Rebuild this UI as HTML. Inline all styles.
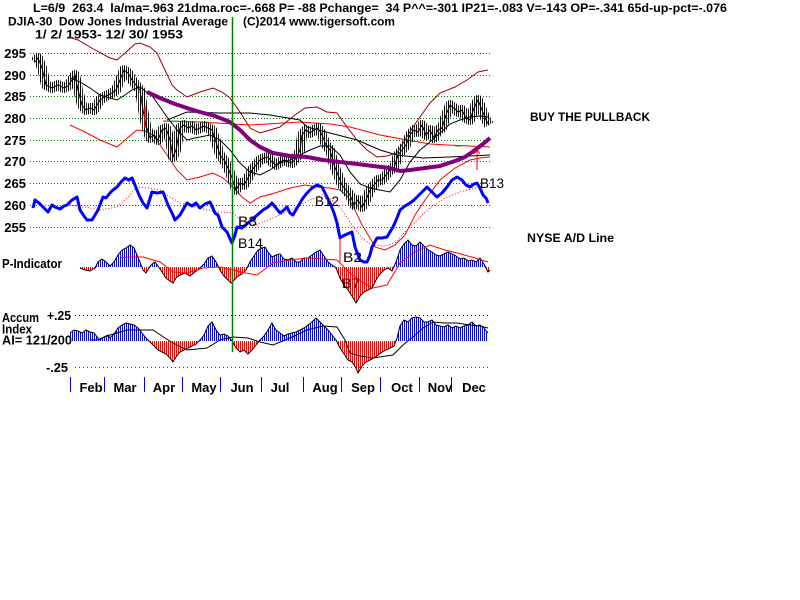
<!DOCTYPE html>
<html><head><meta charset="utf-8"><style>
html,body{margin:0;padding:0;background:#fff;}
svg{display:block;}
text{font-family:"Liberation Sans",Arial,sans-serif;white-space:pre;}
.b{font-weight:bold;}
</style></head><body>
<svg width="800" height="600" viewBox="0 0 800 600" xmlns="http://www.w3.org/2000/svg">
<defs>
<pattern id="pk" width="4" height="600" patternUnits="userSpaceOnUse"><rect x="0" y="0" width="1" height="600" fill="#000"/><rect x="2" y="0" width="1" height="600" fill="#222"/></pattern>
<pattern id="pp" width="2" height="600" patternUnits="userSpaceOnUse"><rect x="0" y="0" width="1" height="267" fill="#0000ff"/><rect x="0" y="267" width="1" height="333" fill="#ff0000"/></pattern>
<pattern id="pa" width="2" height="600" patternUnits="userSpaceOnUse"><rect x="0" y="0" width="1" height="341" fill="#0000ff"/><rect x="0" y="341" width="1" height="259" fill="#ff0000"/></pattern>
</defs>
<rect width="800" height="600" fill="#fff"/>

<!-- header -->
<text class="b" x="33" y="12" font-size="12" textLength="694" lengthAdjust="spacingAndGlyphs">L=6/9  263.4  la/ma=.963 21dma.roc=-.668 P= -88 Pchange=  34 P^^=-301 IP21=-.083 V=-143 OP=-.341 65d-up-pct=-.076</text>
<text class="b" x="8" y="25.5" font-size="12" textLength="220" lengthAdjust="spacingAndGlyphs">DJIA-30  Dow Jones Industrial Average</text>
<text class="b" x="243" y="25.5" font-size="12" textLength="152" lengthAdjust="spacingAndGlyphs">(C)2014 www.tigersoft.com</text>
<text class="b" x="35" y="38.5" font-size="12" textLength="148" lengthAdjust="spacingAndGlyphs">1/ 2/ 1953- 12/ 30/ 1953</text>

<!-- grid -->
<g stroke="#008000" stroke-width="1" stroke-dasharray="1 2">
<line x1="30" y1="53.5" x2="490" y2="53.5"/>
<line x1="30" y1="75.5" x2="490" y2="75.5"/>
<line x1="30" y1="96.5" x2="490" y2="96.5"/>
<line x1="30" y1="118.5" x2="490" y2="118.5"/>
<line x1="30" y1="140.5" x2="490" y2="140.5"/>
<line x1="30" y1="161.5" x2="490" y2="161.5"/>
<line x1="30" y1="183.5" x2="490" y2="183.5"/>
<line x1="30" y1="205.5" x2="490" y2="205.5"/>
<line x1="30" y1="227.5" x2="490" y2="227.5"/>
</g>
<g class="b" font-size="13" text-anchor="end" font-weight="bold">
<text x="26" y="58">295</text>
<text x="26" y="80">290</text>
<text x="26" y="101">285</text>
<text x="26" y="123">280</text>
<text x="26" y="145">275</text>
<text x="26" y="166">270</text>
<text x="26" y="188">265</text>
<text x="26" y="210">260</text>
<text x="26" y="232">255</text>
</g>

<!-- bollinger upper -->
<polyline fill="none" stroke="#990000" stroke-width="1" points="68,37 78,40 95,50 110,58 117,60 125,53 135,44 140,43 150,47 157,53 165,70 172,85 177,90 187,97 200,92 213,88 222,92 230,98 240,112 250,128 260,133 270,130 280,127 295,115 305,108 317,107 327,112 337,113 347,127 357,140 367,150 377,157 387,156 397,153 405,140 413,127 420,117 430,103 440,93 455,87 467,80 478,72 488,70"/>
<!-- bollinger lower -->
<polyline fill="none" stroke="#ff0000" stroke-width="1" points="70,125 85,132 100,140 117,147 125,140 137,130 145,131 153,135 165,152 177,170 187,180 200,177 213,173 223,178 233,187 242,197 250,203 260,197 275,193 290,188 305,185 317,187 330,188 340,190 348,197 355,210 362,225 370,238 375,247 385,250 395,245 405,235 415,215 425,200 440,180 455,168 470,160 480,158 490,157"/>
<!-- red near-horizontal line -->
<polyline fill="none" stroke="#ff0000" stroke-width="1" points="163,121 200,122 250,125 300,122 330,124 350,127 380,135 407,140 430,144 447,145 470,146 490,147"/>
<g stroke="#00a000" stroke-width="1"><line x1="167" y1="121" x2="187" y2="121.5"/><line x1="455" y1="146" x2="462" y2="146"/></g>
<!-- longer black MA -->
<polyline fill="none" stroke="#000" stroke-width="1" points="167,120 187,112 220,113 250,113 270,115 300,120 307,127 330,133 357,140 380,150 397,155 423,158 450,157 470,156 490,155"/>

<!-- price bars -->
<polyline fill="none" stroke="url(#pk)" stroke-width="10" stroke-linejoin="round" points="35,62 38,58 42,68 46,85 52,88 58,85 64,88 68,86 72,80 75,75 78,90 82,105 86,110 90,108 94,110 97,105 100,100 104,97 108,95 112,93 116,90 120,80 124,70 128,73 132,80 136,85 140,90 143,110 146,125 150,138 154,135 158,140 162,130 166,128 170,140 173,157 176,150 180,128 184,125 188,128 192,126 196,130 200,128 204,126 208,128 212,130 216,142 220,155 224,160 228,168 232,178 236,190 240,183 244,185 248,178 252,170 256,165 260,160 264,158 268,157 272,162 276,165 280,162 284,160 288,162 292,163 296,158 300,150 302,135 306,130 310,133 314,130 318,128 322,135 326,145 330,150 334,165 338,175 342,185 346,190 350,195 354,205 358,200 362,207 366,200 370,190 374,185 378,180 382,180 386,175 390,170 394,168 398,155 402,150 406,145 410,135 414,130 418,132 422,125 426,135 430,130 434,138 438,130 442,128 446,115 450,105 454,108 458,112 462,110 466,118 470,120 474,108 478,100 482,110 486,120 489,125"/>
<polyline fill="none" stroke="#000" stroke-width="1" points="35,62 38,58 42,68 46,85 52,88 58,85 64,88 68,86 72,80 75,75 78,90 82,105 86,110 90,108 94,110 97,105 100,100 104,97 108,95 112,93 116,90 120,80 124,70 128,73 132,80 136,85 140,90 143,110 146,125 150,138 154,135 158,140 162,130 166,128 170,140 173,157 176,150 180,128 184,125 188,128 192,126 196,130 200,128 204,126 208,128 212,130 216,142 220,155 224,160 228,168 232,178 236,190 240,183 244,185 248,178 252,170 256,165 260,160 264,158 268,157 272,162 276,165 280,162 284,160 288,162 292,163 296,158 300,150 302,135 306,130 310,133 314,130 318,128 322,135 326,145 330,150 334,165 338,175 342,185 346,190 350,195 354,205 358,200 362,207 366,200 370,190 374,185 378,180 382,180 386,175 390,170 394,168 398,155 402,150 406,145 410,135 414,130 418,132 422,125 426,135 430,130 434,138 438,130 442,128 446,115 450,105 454,108 458,112 462,110 466,118 470,120 474,108 478,100 482,110 486,120 489,125"/>
<line x1="145" y1="106" x2="145" y2="128" stroke="#ff0000" stroke-width="1.5"/>

<!-- 21d MA -->
<polyline fill="none" stroke="#000" stroke-width="1" points="70,78 80,82 90,88 100,95 110,98 117,100 125,95 132,90 140,87 148,93 153,97 160,107 167,117 177,130 187,140 195,138 200,137 210,135 220,140 230,150 240,163 250,172 260,175 270,170 280,163 290,160 300,155 310,150 320,146 330,146 340,155 350,172 360,184 370,188 380,190 390,192 400,180 410,162 420,150 430,142 440,133 450,124 460,120 470,117 480,116 488,117"/>

<!-- purple -->
<polyline fill="none" stroke="#800080" stroke-width="4" stroke-linejoin="round" points="147,92 160,98 175,104 190,109 200,112 215,116 230,122 240,130 250,140 260,147 273,153 290,156 307,157 323,160 340,162 357,164 373,166 390,168 400,171 410,170 425,168 440,166 455,161 465,157 475,150 483,144 490,138"/>
<g stroke="#ff0000" stroke-width="1"><line x1="477" y1="150" x2="477" y2="170"/><line x1="474" y1="154" x2="477" y2="150"/><line x1="480" y1="154" x2="477" y2="150"/></g>

<!-- A/D red dotted MA -->
<polyline fill="none" stroke="#ff0000" stroke-width="1" stroke-dasharray="1 2" points="70,205 85,207 100,210 117,207 128,197 137,187 148,188 160,190 170,197 180,203 195,207 207,210 220,212 233,213 243,222 255,225 268,220 280,215 295,208 310,200 322,195 332,200 342,210 352,225 362,238 372,245 385,246 395,243 405,232 417,220 430,208 445,198 460,192 475,188 488,187"/>
<!-- A/D line -->
<polyline fill="none" stroke="#0000ff" stroke-width="3" stroke-linejoin="round" points="33,208 35,200 39,203 43,207 48,212 52,205 55,207 60,209 64,206 67,205 72,200 77,197 80,210 84,216 87,220 92,220 95,215 98,210 103,197 106,198 110,193 113,190 117,187 121,182 125,178 129,180 132,178 135,185 139,195 143,203 147,208 152,192 157,193 163,192 168,205 172,213 175,220 180,215 184,208 187,203 192,206 196,203 200,208 205,204 210,202 215,213 218,215 222,227 227,232 232,243 235,235 237,227 242,228 248,223 255,217 263,210 268,207 272,203 276,208 280,213 284,210 287,207 290,213 293,215 297,208 300,203 303,198 307,193 312,188 317,185 322,187 326,195 330,203 334,213 337,223 340,238 343,236 347,234 352,232 355,247 358,255 360,260 364,262 367,262 370,255 372,247 377,238 382,238 387,237 390,232 393,227 397,218 400,210 405,206 410,203 414,200 417,197 422,192 427,187 432,192 437,197 442,193 447,187 452,180 457,177 462,180 466,185 470,187 474,184 477,183 480,188 483,195 486,198 488,203"/>
<line x1="340" y1="238" x2="340" y2="262" stroke="#ff0000" stroke-width="1"/>

<!-- P-indicator -->
<polygon fill="url(#pp)" points="80,267 80,268 85,270 90,271 95,268 98,262 102,259 106,262 110,266 114,262 118,255 122,250 126,248 130,245 134,248 137,255 140,262 143,270 146,273 149,268 152,264 155,262 158,266 162,272 166,278 170,281 173,283 176,278 180,275 185,273 190,276 195,272 200,268 204,264 208,258 212,256 216,262 220,270 224,276 228,280 231,283 234,280 238,276 242,274 246,270 250,262 254,256 258,250 262,248 265,247 268,252 272,257 276,255 280,254 284,259 288,260 292,258 296,262 300,262 304,258 308,258 312,255 316,252 320,250 324,256 328,262 332,265 336,268 340,278 344,285 348,290 352,296 356,303 360,296 364,292 368,290 372,288 376,280 380,274 384,270 388,268 392,271 396,262 400,250 404,244 408,240 412,245 416,246 420,242 424,246 428,250 432,252 436,255 440,256 444,254 448,252 452,254 456,256 460,259 464,258 468,261 472,260 476,262 480,258 484,264 488,272 490,270 490,267"/>
<polyline fill="none" stroke="#000" stroke-width="1" points="80,268 85,270 90,271 95,268 98,262 102,259 106,262 110,266 114,262 118,255 122,250 126,248 130,245 134,248 137,255 140,262 143,270 146,273 149,268 152,264 155,262 158,266 162,272 166,278 170,281 173,283 176,278 180,275 185,273 190,276 195,272 200,268 204,264 208,258 212,256 216,262 220,270 224,276 228,280 231,283 234,280 238,276 242,274 246,270 250,262 254,256 258,250 262,248 265,247 268,252 272,257 276,255 280,254 284,259 288,260 292,258 296,262 300,262 304,258 308,258 312,255 316,252 320,250 324,256 328,262 332,265 336,268 340,278 344,285 348,290 352,296 356,303 360,296 364,292 368,290 372,288 376,280 380,274 384,270 388,268 392,271 396,262 400,250 404,244 408,240 412,245 416,246 420,242 424,246 428,250 432,252 436,255 440,256 444,254 448,252 452,254 456,256 460,259 464,258 468,261 472,260 476,262 480,258 484,264 488,272 490,270"/>
<polyline fill="none" stroke="#ff0000" stroke-width="1" points="120,258 127,257 143,257 160,262 173,272 187,273 203,268 220,267 233,270 240,272 257,275 273,263 290,260 307,258 337,260 350,273 362,282 373,288 387,285 400,263 415,252 430,245 445,250 457,253 475,258 488,262"/>

<!-- Accum index -->
<line x1="75" y1="315.5" x2="490" y2="315.5" stroke="#000" stroke-width="1" stroke-dasharray="1 3"/>
<line x1="75" y1="367.5" x2="490" y2="367.5" stroke="#c00060" stroke-width="1" stroke-dasharray="1 3"/>
<polygon fill="url(#pa)" points="70,341 70,333 74,330 78,331 82,333 86,330 90,332 94,333 98,338 100,340 104,337 108,335 110,338 114,334 118,328 122,325 126,323 130,324 134,325 138,328 142,333 146,338 150,342 154,346 158,350 162,352 166,354 170,358 173,362 176,357 180,352 184,350 188,348 192,346 196,344 200,340 204,335 208,326 212,322 216,330 220,335 224,334 228,336 232,341 236,348 240,352 244,350 248,354 252,350 256,345 260,340 264,336 268,330 272,323 276,330 280,333 284,336 288,334 292,333 296,332 300,330 304,328 308,325 312,322 316,318 320,322 324,326 328,330 332,335 336,340 340,348 344,354 348,360 352,362 356,368 358,373 362,366 366,362 370,360 374,358 378,355 382,352 386,350 390,348 394,346 397,338 400,326 404,320 408,322 412,318 416,317 420,318 424,322 428,322 432,320 436,325 440,326 444,327 448,325 452,328 456,326 460,328 464,326 468,325 472,322 476,326 480,325 484,328 488,333 488,341"/>
<polyline fill="none" stroke="#000" stroke-width="1" points="70,333 74,330 78,331 82,333 86,330 90,332 94,333 98,338 100,340 104,337 108,335 110,338 114,334 118,328 122,325 126,323 130,324 134,325 138,328 142,333 146,338 150,342 154,346 158,350 162,352 166,354 170,358 173,362 176,357 180,352 184,350 188,348 192,346 196,344 200,340 204,335 208,326 212,322 216,330 220,335 224,334 228,336 232,341 236,348 240,352 244,350 248,354 252,350 256,345 260,340 264,336 268,330 272,323 276,330 280,333 284,336 288,334 292,333 296,332 300,330 304,328 308,325 312,322 316,318 320,322 324,326 328,330 332,335 336,340 340,348 344,354 348,360 352,362 356,368 358,373 362,366 366,362 370,360 374,358 378,355 382,352 386,350 390,348 394,346 397,338 400,326 404,320 408,322 412,318 416,317 420,318 424,322 428,322 432,320 436,325 440,326 444,327 448,325 452,328 456,326 460,328 464,326 468,325 472,322 476,326 480,325 484,328 488,333"/>
<polyline fill="none" stroke="#000" stroke-width="1" points="90,340 97,340 110,335 127,330 153,330 165,338 173,343 187,350 207,348 220,340 233,337 248,338 260,342 273,345 290,338 307,330 323,326 337,327 345,340 350,353 360,356 373,358 393,355 403,345 413,337 423,328 433,322 445,323 457,323 470,325 480,326 488,328"/>

<!-- green vertical line -->
<line x1="232.5" y1="17" x2="232.5" y2="352" stroke="#008000" stroke-width="1.5"/>

<!-- left panel labels -->
<g class="b" font-size="13" font-weight="bold">
<text x="2" y="268" textLength="60" lengthAdjust="spacingAndGlyphs">P-Indicator</text>
<text x="2" y="322" textLength="37" lengthAdjust="spacingAndGlyphs">Accum</text>
<text x="47" y="320" textLength="24" lengthAdjust="spacingAndGlyphs">+.25</text>
<text x="2" y="333.5" textLength="30" lengthAdjust="spacingAndGlyphs">Index</text>
<text x="2" y="344.5" textLength="70" lengthAdjust="spacingAndGlyphs">AI= 121/200</text>
<text x="46" y="372" textLength="22" lengthAdjust="spacingAndGlyphs">-.25</text>
</g>

<!-- signal labels -->
<g font-size="14" fill="#000">
<text x="238" y="226" textLength="19" lengthAdjust="spacingAndGlyphs">B3</text>
<text x="238" y="248" textLength="25" lengthAdjust="spacingAndGlyphs">B14</text>
<text x="315" y="206" textLength="24" lengthAdjust="spacingAndGlyphs">B12</text>
<text x="343" y="262" textLength="19" lengthAdjust="spacingAndGlyphs">B2</text>
<text x="342" y="288" textLength="18" lengthAdjust="spacingAndGlyphs">B7</text>
<text x="480" y="188" textLength="24" lengthAdjust="spacingAndGlyphs">B13</text>
</g>

<!-- right texts -->
<text class="b" x="530" y="121" font-size="12" font-weight="bold" textLength="120" lengthAdjust="spacingAndGlyphs">BUY THE PULLBACK</text>
<text class="b" x="527" y="242" font-size="12" font-weight="bold" textLength="87" lengthAdjust="spacingAndGlyphs">NYSE A/D Line</text>

<!-- month ticks -->
<g stroke="#0000ff" stroke-width="1">
<line x1="70.5" y1="377" x2="70.5" y2="392"/>
<line x1="104.5" y1="377" x2="104.5" y2="392"/>
<line x1="144.5" y1="377" x2="144.5" y2="392"/>
<line x1="182.5" y1="377" x2="182.5" y2="392"/>
<line x1="220.5" y1="377" x2="220.5" y2="392"/>
<line x1="261.5" y1="377" x2="261.5" y2="392"/>
<line x1="303.5" y1="377" x2="303.5" y2="392"/>
<line x1="341.5" y1="377" x2="341.5" y2="392"/>
<line x1="380.5" y1="377" x2="380.5" y2="392"/>
<line x1="419.5" y1="377" x2="419.5" y2="392"/>
<line x1="451.5" y1="377" x2="451.5" y2="392"/>
</g>
<g class="b" font-size="13" font-weight="bold" text-anchor="middle">
<text x="91" y="392">Feb</text>
<text x="125" y="392">Mar</text>
<text x="164" y="392">Apr</text>
<text x="204" y="392">May</text>
<text x="242" y="392">Jun</text>
<text x="280" y="392">Jul</text>
<text x="325" y="392">Aug</text>
<text x="363" y="392">Sep</text>
<text x="402" y="392">Oct</text>
<text x="440" y="392">Nov</text>
<text x="474" y="392">Dec</text>
</g>
</svg>
</body></html>
